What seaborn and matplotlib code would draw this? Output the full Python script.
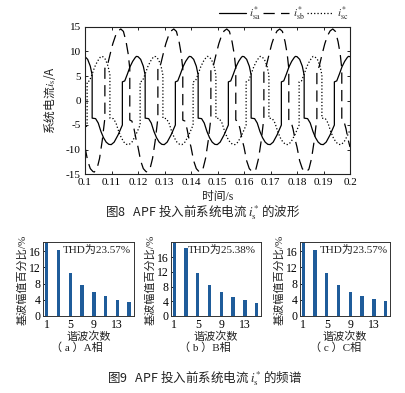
import numpy as np
import pandas as pd
import matplotlib
matplotlib.use("Agg")
import matplotlib.pyplot as plt
import seaborn as sns

# ---------------- data ----------------
# one period (ms from t=0.1 s) of each system current, repeated over 5 cycles
PERIOD_MS = 20.0
N_CYCLES = 5
SA_T = [0.0, 1.0, 2.0, 2.7, 2.7, 4.0, 5.0, 6.0, 7.0, 8.0, 9.0, 9.9, 11.0, 12.5, 14.1, 14.1,
        15.0, 16.0, 17.0, 18.0, 19.0, 19.4, 20.0]
SA_V = [8.95, 8.4, 7.0, 5.2, -3.6, -3.7, -4.6, -6.3, -7.6, -8.5, -8.95, -9.0, -8.5, -7.0, -5.0, 3.8,
        4.0, 5.4, 6.9, 8.0, 8.8, 9.0, 8.95]
SB_T = [0.0, 1.0, 2.0, 3.0, 3.5, 4.5, 5.5, 6.5, 7.5, 7.5, 8.3, 9.5, 10.5, 11.5, 12.5, 13.5,
        14.5, 15.5, 16.3, 16.9, 16.9, 17.7, 18.5, 19.3, 20.0]
SB_V = [-9.5, -12.3, -13.9, -14.5, -14.6, -14.0, -11.8, -8.2, -3.6, 6.6, 6.8, 9.5, 11.6, 13.2, 14.2, 14.6,
        14.1, 12.0, 9.5, 6.5, -4.0, -4.2, -5.8, -8.0, -9.5]
SC_T = [0.0, 0.8, 0.8, 1.7, 2.7, 3.7, 4.7, 5.7, 6.1, 6.7, 7.7, 8.7, 9.4, 9.4, 10.7, 11.7,
        12.7, 13.7, 14.7, 15.7, 16.6, 17.7, 19.2, 20.0]
SC_V = [-6.0, -5.0, 3.8, 4.0, 5.4, 6.9, 8.0, 8.8, 9.0, 8.95, 8.4, 7.0, 5.2, -3.6, -3.7, -4.6,
        -6.3, -7.6, -8.5, -8.95, -9.0, -8.5, -7.0, -6.0]

HARM = [1, 3, 5, 7, 9, 11, 13, 15]
A_PCT = [100, 16.4, 10.6, 7.7, 6.0, 4.85, 4.0, 3.5]
B_PCT = [100, 18.5, 11.8, 8.5, 6.5, 5.3, 4.3, 3.6]
C_PCT = [100, 16.4, 10.6, 7.7, 6.05, 4.9, 4.1, 3.6]
THD_TEXT = ["THD为23.57%", "THD为25.38%", "THD为23.57%"]
SUBCAPS = ["（ a ）A相", "（ b ）B相", "（ c ）C相"]
Y_TOP = [18.4, 20.3, 18.4]

X_TICKS = [0.1, 0.11, 0.12, 0.13, 0.14, 0.15, 0.16, 0.17, 0.18, 0.19, 0.2]
X_LABELS = ["0.1", "0.11", "0.12", "0.13", "0.14", "0.15", "0.16", "0.17", "0.18", "0.19", "0.2"]
Y_TICKS = [-15, -10, -5, 0, 5, 10, 15]
H_TICKS = [1, 5, 9, 13]
B_YTICKS = [0, 4, 8, 12, 16]


def cycles(tms, vals):
    tt = np.concatenate([(np.array(tms) + PERIOD_MS * k) for k in range(N_CYCLES)])
    vv = np.concatenate([np.array(vals) for _ in range(N_CYCLES)])
    return pd.DataFrame({"t": 0.1 + tt / 1000.0, "v": vv})


df_a = cycles(SA_T, SA_V)
df_b = cycles(SB_T, SB_V)
df_c = cycles(SC_T, SC_V)

# ---------------- style ----------------
sns.set_theme(style="white")
plt.rcParams["font.family"] = ["Liberation Serif", "Noto Sans CJK SC"]
plt.rcParams["mathtext.fontset"] = "stix"
plt.rcParams["axes.unicode_minus"] = False
plt.rcParams["axes.edgecolor"] = "black"
plt.rcParams["axes.linewidth"] = 0.8
CJK = "Noto Sans CJK SC"
TXT = "#222222"

W, H = 406, 393
fig = plt.figure(figsize=(W / 100, H / 100), dpi=100)
fig.patch.set_facecolor("white")


def rect(l, r, t, b):
    return [l / W, 1 - b / H, (r - l) / W, (b - t) / H]


# ---------------- Fig 8 waveform ----------------
ax = fig.add_axes(rect(85, 350, 27, 174))
sns.lineplot(data=df_a, x="t", y="v", ax=ax, sort=False, estimator=None,
             color="black", linewidth=0.9, linestyle="-")
sns.lineplot(data=df_b, x="t", y="v", ax=ax, sort=False, estimator=None,
             color="black", linewidth=0.9, linestyle="--")
ax.lines[-1].set_dashes([9, 5])
sns.lineplot(data=df_c, x="t", y="v", ax=ax, sort=False, estimator=None,
             color="black", linewidth=0.9, linestyle=":")
ax.set_xlim(0.1, 0.2)
ax.set_ylim(-15, 15)
ax.set_xticks(X_TICKS)
ax.set_xticklabels(X_LABELS)
ax.set_yticks(Y_TICKS)
ax.tick_params(direction="in", length=2.5, width=0.6, labelsize=8, pad=3,
               top=True, right=True, bottom=True, left=True, colors="black")
for s in ax.spines.values():
    s.set_linewidth(0.8)
    s.set_color("#222222")
ax.set_xlabel("时间/s", fontsize=8.5, color=TXT)
ax.set_ylabel("系统电流$i_{\\mathrm{s}}$/A", fontsize=8.5, color=TXT, fontfamily=CJK)
ax.xaxis.set_label_coords(0.5, -0.116)
ax.yaxis.set_label_coords(-0.10, 0.5)
leg = ax.legend(handles=ax.lines[:3],
                labels=[r"$i_{\mathrm{sa}}^{*}$", r"$i_{\mathrm{sb}}^{*}$", r"$i_{\mathrm{sc}}^{*}$"],
                ncol=3, frameon=False, loc="center right", bbox_to_anchor=(1.01, 1.09),
                fontsize=8, handlelength=2.4, handletextpad=0.3, columnspacing=0.2,
                borderaxespad=0)

fig.text(0.5, 1 - 213 / H, "图8   APF 投入前系统电流 $i_{\\mathrm{s}}^{*}$ 的波形",
         ha="center", va="center", fontsize=9, color=TXT, fontfamily=CJK)

# ---------------- Fig 9 spectra ----------------
lefts = [43.5, 171, 300]
pcts = [A_PCT, B_PCT, C_PCT]
thd_x = [0.217, 0.19, 0.22]
sub_x = [77, 205, 336]
BAR_COLOR = "#1f5c9a"
for i in range(3):
    bx = fig.add_axes(rect(lefts[i], lefts[i] + 90, 241.5, 316))
    sns.barplot(x=HARM, y=pcts[i], ax=bx, native_scale=True, width=0.29,
                color=BAR_COLOR, saturation=1, edgecolor="none")
    bx.set_xlim(0.45, 15.75)
    bx.set_ylim(0, Y_TOP[i])
    bx.set_xticks(H_TICKS)
    bx.set_xticklabels([str(h) for h in H_TICKS])
    bx.set_yticks(B_YTICKS)
    bx.tick_params(direction="in", length=2, width=0.6, labelsize=8.5, pad=2,
                   colors="black", left=True, bottom=True)
    for s in bx.spines.values():
        s.set_linewidth(0.7)
        s.set_color("#333333")
    bx.set_xlabel("谐波次数", fontsize=8, color=TXT)
    bx.set_ylabel("基波幅值百分比/%", fontsize=8, color=TXT)
    bx.xaxis.set_label_coords(0.5, -0.208)
    bx.yaxis.set_label_coords(-0.178, 0.48)
    bx.text(thd_x[i], 0.885, THD_TEXT[i], transform=bx.transAxes, ha="left", va="center",
            fontsize=8, color=TXT)
    fig.text(sub_x[i] / W, 1 - 348 / H, SUBCAPS[i], ha="center", va="center",
             fontsize=8, color=TXT)

fig.text(0.505, 1 - 379 / H, "图9   APF 投入前系统电流 $i_{\\mathrm{s}}^{*}$ 的频谱",
         ha="center", va="center", fontsize=9, color=TXT, fontfamily=CJK)

fig.savefig("out.png", dpi=100, facecolor="white")
